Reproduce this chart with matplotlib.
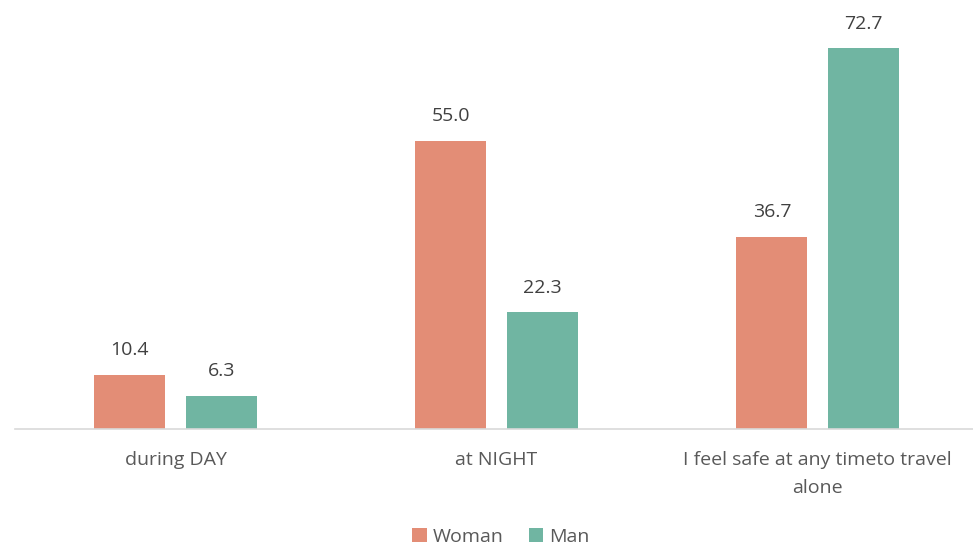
import numpy as np
import matplotlib.pyplot as plt

categories = ["during DAY", "at NIGHT", "I feel safe at any timeto travel\nalone"]
woman = [10.4, 55.0, 36.7]
man = [6.3, 22.3, 72.7]

plt.rcParams['font.family'] = ['Open Sans', 'DejaVu Sans']

fig = plt.figure(figsize=(9.73, 5.49), dpi=100)
# axis spans a little past the right edge, like the original
ax = fig.add_axes([15 / 973, 1 - 429 / 549, 963 / 973, 419 / 549])

x = np.arange(len(categories))
w = 0.221
off = 0.142
b1 = ax.bar(x - off, woman, w, color='#E38D76', label='Woman')
b2 = ax.bar(x + off, man, w, color='#70B5A2', label='Man')

for bars, vals in [(b1, woman), (b2, man)]:
    for b, v in zip(bars, vals):
        ax.text(b.get_x() + b.get_width() / 2, v + 4.7, f"{v:.1f}",
                ha='center', va='center', fontsize=14, color='#404040')

ax.set_xlim(-0.5, 2.5)
ax.set_ylim(0, 80)
ax.set_xticks(x)
ax.set_xticklabels(categories, fontsize=14, color='#595959', linespacing=1.7)
ax.tick_params(axis='x', length=0, pad=16)
ax.set_yticks([])
for s in ['top', 'right', 'left']:
    ax.spines[s].set_visible(False)
ax.spines['bottom'].set_color('#D9D9D9')
ax.spines['bottom'].set_linewidth(1.2)

fig.legend(loc='center', bbox_to_anchor=(501 / 973, 1 - 537 / 549), ncol=2,
           frameon=False, fontsize=14, handlelength=0.75, handleheight=0.75,
           handletextpad=0.3, columnspacing=1.3, labelcolor='#595959')

fig.savefig('out.png', dpi=100)
